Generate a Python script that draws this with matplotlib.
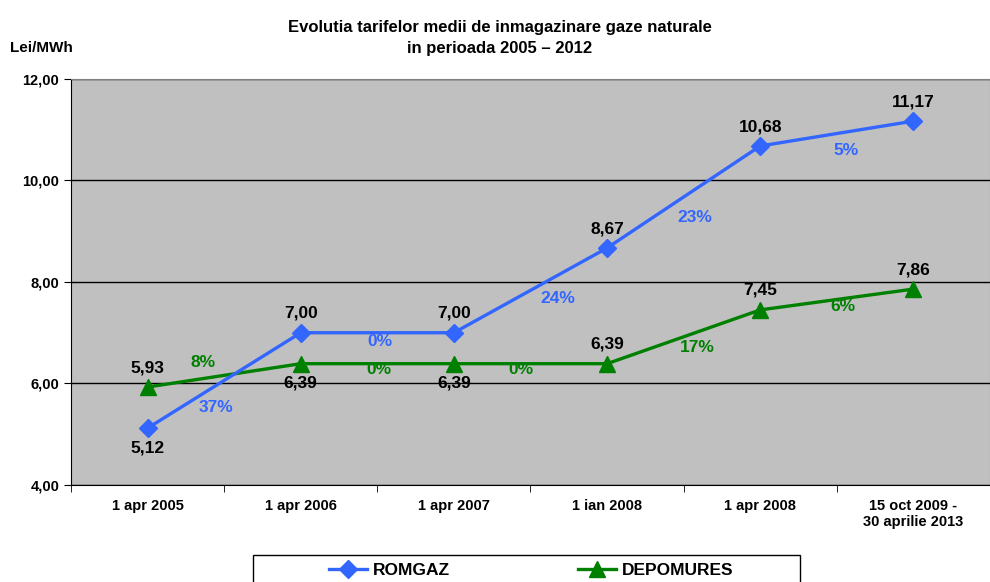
import numpy as np
import matplotlib.pyplot as plt
from matplotlib.patches import Rectangle

plt.rcParams['font.family'] = ['Liberation Sans', 'DejaVu Sans']
plt.rcParams['font.weight'] = 'bold'

# --- date ---
perioade = ['1 apr 2005', '1 apr 2006', '1 apr 2007', '1 ian 2008', '1 apr 2008',
            '15 oct 2009 -\n30 aprilie 2013']
romgaz = [5.12, 7.00, 7.00, 8.67, 10.68, 11.17]
depomures = [5.93, 6.39, 6.39, 6.39, 7.45, 7.86]
romgaz_pct = ['37%', '0%', '24%', '23%', '5%']
depomures_pct = ['8%', '0%', '0%', '17%', '6%']

# pozitii etichete procent (x, y in coordonate date)
romgaz_pct_pos = [(0.45, 5.52), (1.52, 6.82), (2.68, 7.68), (3.57, 9.28), (4.56, 10.60)]
depomures_pct_pos = [(0.36, 6.42), (1.51, 6.27), (2.44, 6.27), (3.59, 6.70), (4.54, 7.51)]
# +1 = deasupra, -1 = dedesubt
romgaz_lbl_side = [-1, 1, 1, 1, 1, 1]
depomures_lbl_side = [1, -1, -1, 1, 1, 1]

albastru = '#3366FF'
verde = '#008000'

fig = plt.figure(figsize=(9.9, 5.82), dpi=100)
ax = fig.add_axes([0.0717, 0.1667, 0.9283, 0.6976])
ax.set_facecolor('#C0C0C0')

x = np.arange(len(perioade))
l1, = ax.plot(x, romgaz, color=albastru, lw=2.4, marker='D', ms=9, label='ROMGAZ', zorder=4)
l2, = ax.plot(x, depomures, color=verde, lw=2.4, marker='^', ms=11, label='DEPOMURES', zorder=3)

for xi, v, s in zip(x, romgaz, romgaz_lbl_side):
    ax.annotate(f'{v:.2f}'.replace('.', ','), (xi, v), xytext=(0, 14 * s), textcoords='offset points',
                ha='center', va='center', fontsize=12.5, fontweight='bold', color='black', zorder=6)
for xi, v, s in zip(x, depomures, depomures_lbl_side):
    ax.annotate(f'{v:.2f}'.replace('.', ','), (xi, v), xytext=(0, 14 * s), textcoords='offset points',
                ha='center', va='center', fontsize=12.5, fontweight='bold', color='black', zorder=6)

for t, (px, py) in zip(romgaz_pct, romgaz_pct_pos):
    ax.text(px, py, t, ha='center', va='center', fontsize=12.5, fontweight='bold', color=albastru, zorder=6)
for t, (px, py) in zip(depomures_pct, depomures_pct_pos):
    ax.text(px, py, t, ha='center', va='center', fontsize=12.5, fontweight='bold', color=verde, zorder=6)

ax.set_xlim(-0.5, len(perioade) - 0.5)
ax.set_ylim(4, 12)
ax.set_yticks([4, 6, 8, 10, 12])
ax.set_yticklabels(['4,00', '6,00', '8,00', '10,00', '12,00'], fontsize=10.5, fontweight='bold')
ax.yaxis.grid(True, color='black', lw=1)
ax.set_axisbelow(True)

ax.set_xticks(x)
ax.set_xticklabels(perioade, fontsize=10.5, fontweight='bold')
ax.set_xticks(np.arange(-0.5, len(perioade), 1), minor=True)
ax.tick_params(axis='x', which='major', length=0, pad=10)
ax.tick_params(axis='x', which='minor', length=5, color='black')
ax.tick_params(axis='y', length=5, color='black')

for sp in ax.spines.values():
    sp.set_color('#808080')
ax.spines['left'].set_color('black')
ax.spines['bottom'].set_color('black')

fig.text(0.505, 0.965, 'Evolutia tarifelor medii de inmagazinare gaze naturale\nin perioada 2005 \u2013 2012',
         ha='center', va='top', fontsize=12, fontweight='bold', linespacing=1.45)
fig.text(0.01, 0.918, 'Lei/MWh', ha='left', va='center', fontsize=11, fontweight='bold')

# legenda: chenar separat, continut fara rama
fig.add_artist(Rectangle((253 / 990, -0.02), 547 / 990, 0.0464 + 0.02, transform=fig.transFigure,
                         facecolor='white', edgecolor='black', lw=1))
leg = fig.legend(handles=[l1, l2], loc='center', ncol=2, bbox_to_anchor=(531 / 990, 12 / 582),
                 frameon=False, prop={'weight': 'bold', 'size': 12.5}, handlelength=2.2,
                 handletextpad=0.3, columnspacing=7.4, borderaxespad=0)

fig.savefig('out.png', dpi=100)
